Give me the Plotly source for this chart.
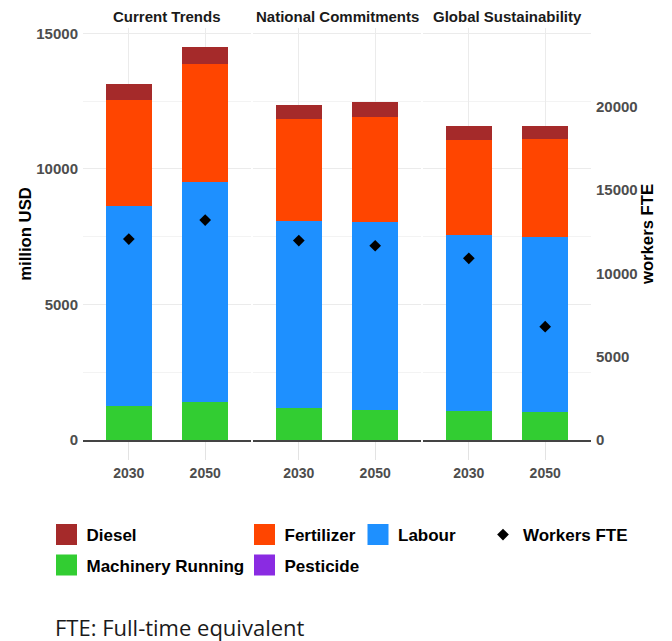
import plotly.graph_objects as go

# ---------------- data ----------------
scenarios = ["Current Trends", "National Commitments", "Global Sustainability"]
years = ["2030", "2050"]
# values ordered: CT2030, CT2050, NC2030, NC2050, GS2030, GS2050 (million USD)
pesticide = [0, 0, 0, 0, 0, 0]
machinery = [1265, 1412, 1169, 1117, 1070, 1033]
labour = [7376, 8114, 6908, 6934, 6479, 6443]
fertilizer = [3898, 4330, 3750, 3872, 3515, 3614]
diesel = [579, 627, 528, 531, 505, 479]
# workers (full-time equivalent)
workers_fte = [12050, 13190, 11960, 11650, 10895, 6795]
usd_ticks = [0, 5000, 10000, 15000]
fte_ticks = [0, 5000, 10000, 15000, 20000]

series = [  # bottom to top in the stack
    ("Pesticide", pesticide, "#8A2BE2"),
    ("Machinery Running", machinery, "#32CD32"),
    ("Labour", labour, "#1E90FF"),
    ("Fertilizer", fertilizer, "#FF4500"),
    ("Diesel", diesel, "#A52A2A"),
]

# ---------------- geometry (page pixels; body margin removed below) ----------------
W, H = 672, 641
PL, PR, PT, PB = 83, 591, 28, 440
pw = PR - PL
ph = PB - PT
panel_px = [(83, 251), (253, 421), (423, 591)]
domains = [[(a - PL) / pw, (b - PL) / pw] for a, b in panel_px]
usd_max = 15195
fte_max = 24708


def px_x(px):  # page x -> paper x
    return (px - PL) / pw


def px_y(py):  # page y -> paper y
    return (PB - py) / ph


FONT = "Liberation Sans, Arial, sans-serif"
TICKC = "#4d4d4d"
GRID = "#ebebeb"

fig = go.Figure()

xnames = ["x", "x2", "x3"]

for name, vals, col in series:
    for p in range(3):
        fig.add_trace(go.Bar(
            x=years, y=vals[2 * p:2 * p + 2], name=name,
            marker=dict(color=col, line=dict(width=0)),
            width=0.6, xaxis=xnames[p], yaxis="y",
            showlegend=False, legendgroup=name,
        ))

for p in range(3):
    fig.add_trace(go.Scatter(
        x=years, y=workers_fte[2 * p:2 * p + 2], name="Workers FTE",
        mode="markers", marker=dict(symbol="diamond", size=9, color="black"),
        xaxis=xnames[p], yaxis="y4", legend="legend6",
        showlegend=(p == 0), legendgroup="fte",
    ))

# legend keys (square swatches like the reference)
legend_for = {
    "Diesel": "legend",
    "Machinery Running": "legend2",
    "Fertilizer": "legend3",
    "Pesticide": "legend4",
    "Labour": "legend5",
}
for name, vals, col in series:
    fig.add_trace(go.Scatter(
        x=[None], y=[None], name=name, mode="markers",
        marker=dict(symbol="square", size=16, color=col,
                    line=dict(color=col, width=5)),
        xaxis="x", yaxis="y", legend=legend_for[name],
        showlegend=True, legendgroup=name, hoverinfo="skip",
    ))

layout = dict(
    width=W, height=H,
    margin=dict(l=PL, r=W - PR, t=PT, b=H - PB, pad=0),
    paper_bgcolor="white", plot_bgcolor="white",
    barmode="stack",
    font=dict(family=FONT, size=14, color="black"),
)

for p in range(3):
    key = "xaxis" if p == 0 else f"xaxis{p + 1}"
    layout[key] = dict(
        domain=domains[p], anchor="y", type="category",
        categoryorder="array", categoryarray=years,
        range=[-0.6, 1.6],
        showline=True, linecolor="#444444", linewidth=1.5,
        showgrid=True, gridcolor=GRID, gridwidth=1,
        ticks="outside", ticklen=18, tickcolor="#e3e3e3", tickwidth=1,
        tickfont=dict(family=FONT, size=14, color=TICKC, weight="bold"),
        ticklabelstandoff=1,
        fixedrange=True,
    )

layout["yaxis"] = dict(
    domain=[0, 1], anchor="x", range=[0, usd_max],
    tickvals=usd_ticks, ticktext=[str(v) for v in usd_ticks],
    showgrid=True, gridcolor=GRID, gridwidth=1,
    minor=dict(dtick=2500, showgrid=True, gridcolor="#f3f3f3", gridwidth=0.7),
    zeroline=False, showline=False,
    ticks="outside", ticklen=1, tickcolor="rgba(0,0,0,0)",
    tickfont=dict(family=FONT, size=15, color=TICKC, weight="bold"),
    title=dict(text="million USD", standoff=0,
               font=dict(family=FONT, size=16.7, color="black", weight="bold")),
)
layout["yaxis4"] = dict(
    overlaying="y", side="right", anchor="x3", range=[0, fte_max],
    tickvals=fte_ticks, ticktext=[str(v) for v in fte_ticks],
    showgrid=False, zeroline=False, showline=False,
    ticks="outside", ticklen=1, tickcolor="rgba(0,0,0,0)",
    tickfont=dict(family=FONT, size=15, color=TICKC, weight="bold"),
    title=dict(text="workers FTE", standoff=3,
               font=dict(family=FONT, size=16.7, color="black", weight="bold")),
)

# legends, one per entry, placed at the reference positions (page px)
leg_font = dict(family=FONT, size=17, color="black", weight="bold")
leg_pos = {
    "legend": (46.5, 535),
    "legend2": (46.5, 565.5),
    "legend3": (244.5, 535),
    "legend4": (244.5, 565.5),
    "legend5": (358, 535),
    "legend6": (483, 535),
}
for k, (px, py) in leg_pos.items():
    layout[k] = dict(
        xref="paper", yref="paper",
        x=px_x(px), y=px_y(py), xanchor="left", yanchor="middle",
        bgcolor="rgba(0,0,0,0)", borderwidth=0,
        font=leg_font, itemclick=False, itemdoubleclick=False,
    )

fig.update_layout(**layout)

# facet strip labels
for p, s in enumerate(scenarios):
    fig.add_annotation(
        text=s, xref="paper", yref="paper",
        x=(domains[p][0] + domains[p][1]) / 2, y=px_y(16),
        xanchor="center", yanchor="middle", showarrow=False,
        font=dict(family=FONT, size=15, color="#1a1a1a", weight="bold"),
    )

# footnote
fig.add_annotation(
    text="FTE: Full-time equivalent", xref="paper", yref="paper",
    x=px_x(53), y=px_y(627),
    xanchor="left", yanchor="middle", showarrow=False,
    font=dict(family="Open Sans, sans-serif", size=22, color="#1a1a1a"),
)

fig.write_html(
    "out.html",
    config={"displayModeBar": False, "staticPlot": False},
    post_script="document.body.style.margin='0';",
)
